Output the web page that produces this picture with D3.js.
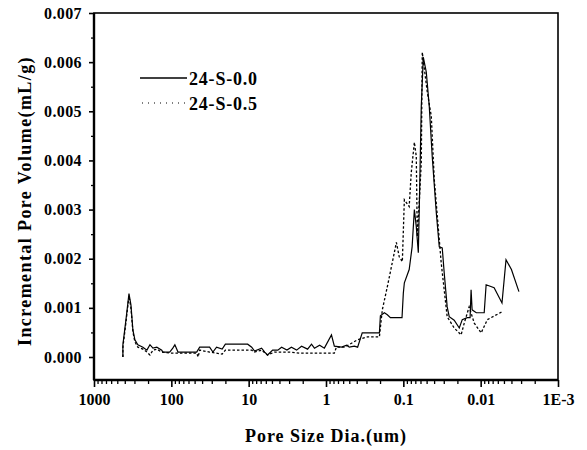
<!DOCTYPE html>
<html>
<head>
<meta charset="utf-8">
<script src="https://cdn.jsdelivr.net/npm/d3@7"></script>
<style>
  body { margin: 0; background: #fff; }
</style>
</head>
<body>
<div id="chart"></div>
<script>
// Pore size (um) and incremental pore volume (mL/g)
const sizeS00 = [423, 423, 386, 353, 333, 314, 296, 271, 233, 207, 189, 173, 154, 133, 129, 105, 95.7, 90, 82, 47, 43, 32, 29, 26, 22, 20,
  10.3, 9.14, 8.4, 6.8, 6.2, 5.7, 4.9, 4.2, 3.75, 3.2, 2.8, 2.4, 2.07, 1.73, 1.54, 1.41, 1.21, 1.05, 0.85, 0.78, 0.63, 0.54, 0.50, 0.43, 0.39,
  0.34, 0.204, 0.198, 0.176, 0.161, 0.147, 0.104, 0.100, 0.097, 0.084, 0.077, 0.072, 0.068, 0.064, 0.062, 0.0586, 0.0552, 0.0505, 0.0462,
  0.0423, 0.0375, 0.0343, 0.0314, 0.0296, 0.0271, 0.0255, 0.022, 0.0189, 0.0173, 0.0149, 0.0137, 0.0133, 0.0129, 0.0114, 0.0090, 0.0085,
  0.0067, 0.0053, 0.0047, 0.0040, 0.0032];
const volS00 = [0, 0.00025, 0.00076, 0.00129, 0.00106, 0.00055, 0.00035, 0.00025, 0.0002, 0.00014, 0.00025, 0.00018, 0.0002, 0.00014, 0.0001,
  0.0001, 0.00018, 0.00025, 0.0001, 0.0001, 0.0002, 0.0002, 0.0001, 0.0002, 0.00016, 0.00026,
  0.00026, 0.0002, 0.00012, 0.00018, 0.0001, 0.00004, 0.00014, 0.00014, 0.0002, 0.00014, 0.0002, 0.00014, 0.00022, 0.00016, 0.00026, 0.00018,
  0.00024, 0.00018, 0.00045, 0.00022, 0.0002, 0.00024, 0.0002, 0.00022, 0.0002,
  0.00049, 0.00049, 0.00084, 0.0009, 0.00086, 0.0008, 0.0008, 0.0013, 0.00151, 0.00178, 0.00224, 0.0030, 0.00265, 0.00212, 0.00314, 0.0051,
  0.0061, 0.0058, 0.0051, 0.00408, 0.00294, 0.00224, 0.00222, 0.00171, 0.00102, 0.00082, 0.00075, 0.00059, 0.00076, 0.0008, 0.0008, 0.00137,
  0.00096, 0.0009, 0.0009, 0.00147, 0.00141, 0.0011, 0.00198, 0.00178, 0.00133];

const sizeS05 = [423, 423, 386, 353, 333, 314, 296, 271, 233, 207, 189, 173, 154, 133, 105, 47, 45, 43, 32, 22, 20, 9.14, 8.4, 6.8, 5.7, 4.63,
  2.96, 2.2, 0.78, 0.733, 0.577, 0.39, 0.29, 0.204, 0.187, 0.161, 0.123, 0.113, 0.103, 0.097, 0.084, 0.079, 0.072, 0.068, 0.066, 0.062,
  0.0586, 0.0569, 0.049, 0.0435, 0.0398, 0.0324, 0.0271, 0.022, 0.0179, 0.0163, 0.0141, 0.0121, 0.00986, 0.0082, 0.0053];
const volS05 = [0, 0.0002, 0.00071, 0.00124, 0.001, 0.00051, 0.00031, 0.0002, 0.00016, 0.0001, 0.00004, 0.00014, 0.00016, 0.0001, 0.00008,
  0.00008, 0, 0.00014, 0.0001, 0.00006, 0.00014, 0.00014, 0.0001, 0.00014, 0.00004, 0.0001,
  0.0001, 0.00008, 0.00008, 0.0002, 0.0002, 0.00035, 0.00041, 0.00041, 0.00096, 0.00143, 0.00233, 0.00204, 0.00194, 0.0032, 0.00306, 0.00375,
  0.00437, 0.00408, 0.00245, 0.0032, 0.00396, 0.0062, 0.00539, 0.0049, 0.00361, 0.00192, 0.00082, 0.00059, 0.00045, 0.00069, 0.00102,
  0.00069, 0.00049, 0.00076, 0.00092];

const seriesNames = ["24-S-0.0", "24-S-0.5"];
const xTickValues = [1000, 100, 10, 1, 0.1, 0.01, 0.001];
const xTickLabels = ["1000", "100", "10", "1", "0.1", "0.01", "1E-3"];
const yTickValues = [0, 0.001, 0.002, 0.003, 0.004, 0.005, 0.006, 0.007];

const FONT = "'Liberation Serif'";

const margin = { top: 13, right: 29, bottom: 70, left: 94 },
      width  = 587 - margin.left - margin.right,
      height = 450 - margin.top - margin.bottom;

const svg = d3.select("#chart")
  .append("svg")
  .attr("width", width + margin.left + margin.right)
  .attr("height", height + margin.top + margin.bottom)
  .append("g")
  .attr("transform", `translate(${margin.left}, ${margin.top})`);

// reversed log axis: big pores on the left
const x = d3.scaleLog()
  .domain([1000, 0.001])
  .range([0, width]);

const y = d3.scaleLinear()
  .domain([-0.000468, 0.007])
  .range([height, 0]);

// minor ticks 2..9 in every decade
const xMinor = [];
for (let e = -3; e < 3; e++) {
  for (let m = 2; m <= 9; m++) xMinor.push(m * Math.pow(10, e));
}
const yMinor = d3.range(0.0005, 0.007, 0.001);

// x axis
svg.append("g")
  .attr("transform", `translate(0, ${height})`)
  .call(d3.axisBottom(x).tickValues(xMinor).tickSize(4).tickFormat(""))
  .call(g => g.select(".domain").remove())
  .selectAll("line").attr("stroke-width", 1.3);

svg.append("g")
  .attr("transform", `translate(0, ${height})`)
  .call(d3.axisBottom(x).tickValues(xTickValues).tickSize(7).tickPadding(7)
    .tickFormat((d, i) => xTickLabels[i]))
  .call(g => g.select(".domain").remove())
  .call(g => g.selectAll("line").attr("stroke-width", 1.6))
  .selectAll("text")
  .attr("font-family", FONT)
  .attr("font-size", 16)
  .attr("font-weight", "bold");

// y axis
svg.append("g")
  .call(d3.axisLeft(y).tickValues(yMinor).tickSize(3).tickFormat(""))
  .call(g => g.select(".domain").remove())
  .selectAll("line").attr("stroke-width", 1.3);

svg.append("g")
  .call(d3.axisLeft(y).tickValues(yTickValues).tickSize(5).tickPadding(7).tickFormat(d3.format(".3f")))
  .call(g => g.select(".domain").remove())
  .call(g => g.selectAll("line").attr("stroke-width", 1.6))
  .selectAll("text")
  .attr("font-family", FONT)
  .attr("font-size", 16)
  .attr("font-weight", "bold")
  .attr("letter-spacing", 0.4);

// frame
svg.append("rect")
  .attr("x", 0)
  .attr("y", 0)
  .attr("width", width)
  .attr("height", height)
  .attr("fill", "none")
  .attr("stroke", "black")
  .attr("stroke-width", 1.6);

svg.append("line")
  .attr("x1", 0).attr("x2", 0)
  .attr("y1", 0).attr("y2", height)
  .attr("stroke", "black")
  .attr("stroke-width", 2.4);

svg.append("line")
  .attr("x1", 0).attr("x2", width)
  .attr("y1", height).attr("y2", height)
  .attr("stroke", "black")
  .attr("stroke-width", 2.4);

// axis titles
svg.append("text")
  .attr("x", 232)
  .attr("y", 429)
  .attr("text-anchor", "middle")
  .attr("font-family", FONT)
  .attr("font-size", 18)
  .attr("font-weight", "bold")
  .attr("letter-spacing", 1)
  .text("Pore Size Dia.(um)");

svg.append("text")
  .attr("transform", "rotate(-90)")
  .attr("x", -188)
  .attr("y", -63)
  .attr("text-anchor", "middle")
  .attr("font-family", FONT)
  .attr("font-size", 18)
  .attr("font-weight", "bold")
  .attr("letter-spacing", 1.4)
  .text("Incremental Pore Volume(mL/g)");

// lines
const lineGenerator = d3.line()
  .x(d => x(d[0]))
  .y(d => y(d[1]));

const dataS00 = sizeS00.map((s, i) => [s, volS00[i]]);
const dataS05 = sizeS05.map((s, i) => [s, volS05[i]]);

svg.append("path")
  .datum(dataS05)
  .attr("fill", "none")
  .attr("stroke", "black")
  .attr("stroke-width", 1.3)
  .attr("stroke-dasharray", "2.5,2")
  .attr("d", lineGenerator);

svg.append("path")
  .datum(dataS00)
  .attr("fill", "none")
  .attr("stroke", "black")
  .attr("stroke-width", 1.2)
  .attr("d", lineGenerator);

// legend
const legend = svg.append("g")
  .attr("transform", `translate(${140 - margin.left}, ${78 - margin.top})`);

seriesNames.forEach((name, i) => {
  legend.append("line")
    .attr("x1", i === 0 ? 0 : 2)
    .attr("x2", i === 0 ? 47 : 45)
    .attr("y1", i * 25)
    .attr("y2", i * 25)
    .attr("stroke", "black")
    .attr("stroke-width", i === 0 ? 1.3 : 1.2)
    .attr("stroke-dasharray", i === 0 ? null : "1,5");

  legend.append("text")
    .attr("x", 49)
    .attr("y", i * 25 + 7)
    .attr("font-family", FONT)
    .attr("font-size", 18)
    .attr("font-weight", "bold")
    .attr("letter-spacing", 0.8)
    .text(name);
});
</script>
</body>
</html>
